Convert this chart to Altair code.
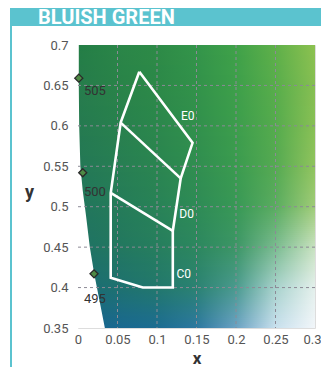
import altair as alt
import pandas as pd

# ---- axes ----
x_ticks = [0, 0.05, 0.1, 0.15, 0.2, 0.25, 0.3]
y_ticks = [0.35, 0.4, 0.45, 0.5, 0.55, 0.6, 0.65, 0.7]
grid_x = [0.05, 0.1, 0.15, 0.2, 0.25]
grid_y = [0.4, 0.45, 0.5, 0.55, 0.6, 0.65]

# ---- background colour table ----
bg_stops_x = [0, 0.05, 0.1, 0.15, 0.2, 0.25, 0.3]
bg_rows_y = [0.35, 0.4, 0.45, 0.5, 0.55, 0.6, 0.65, 0.7]
bg_colors = [
    ["#17638c", "#196890", "#1c6c92", "#2c78a0", "#6aa2c4", "#c8e0ee", "#f2f6fa"],
    ["#1b6c74", "#1e7170", "#22786c", "#2b8272", "#4a9a8e", "#a8d2cc", "#e4f0ec"],
    ["#1f7265", "#22775f", "#267e5e", "#2c875f", "#3c9666", "#7abb90", "#c8e2c0"],
    ["#21755c", "#247b59", "#288257", "#2e8b56", "#389856", "#5aac60", "#a0cc78"],
    ["#237856", "#277e53", "#2a8550", "#308e50", "#3a9b4f", "#55aa52", "#90c45e"],
    ["#257a50", "#28804e", "#2b874c", "#31904c", "#3c9d4c", "#55ab4d", "#88c055"],
    ["#267c4c", "#298348", "#2c8948", "#32924a", "#3d9f4a", "#58ad4b", "#86bf52"],
    ["#237d45", "#2a8548", "#2d8a47", "#33944a", "#3fa149", "#5fb04a", "#8cc150"],
]

# ---- spectral locus edge (white outside) ----
locus_x = [0.034, 0.027, 0.0205, 0.015, 0.010, 0.006, 0.003, 0.0015, 0.001, 0.001]
locus_y = [0.35, 0.385, 0.417, 0.45, 0.49, 0.52, 0.55, 0.60, 0.65, 0.70]

# ---- wavelength markers ----
wl_x = [0.001, 0.006, 0.0203]
wl_y = [0.659, 0.542, 0.417]
wl_text = ["505", "500", "495"]
wl_text_x = [0.0076, 0.0076, 0.0076]
wl_text_y = [0.6435, 0.5186, 0.3859]

# ---- region outline ----
outline_x = [0.0776, 0.145, 0.130, 0.120, 0.120, 0.082, 0.0414, 0.0414, 0.054, 0.0776]
outline_y = [0.667, 0.579, 0.535, 0.470, 0.400, 0.400, 0.412, 0.517, 0.604, 0.667]
div1_x = [0.054, 0.130]
div1_y = [0.604, 0.535]
div2_x = [0.0414, 0.120]
div2_y = [0.517, 0.470]
region_text = ["E0", "D0", "C0"]
region_x = [0.139, 0.1375, 0.1338]
region_y = [0.6126, 0.4906, 0.417]

TITLE = "BLUISH GREEN"

# ---- scales / axes ----
xs = alt.Scale(domain=[0, 0.3], nice=False, zero=False)
ys = alt.Scale(domain=[0.35, 0.7], nice=False, zero=False)
ax_x = alt.Axis(values=x_ticks, format="~g", grid=False, ticks=False, domain=False,
                labelFont="Roboto", labelFontSize=13, labelColor="#555", labelPadding=5,
                labelFlush=False, labelOverlap=False,
                labelAlign={"condition": {"test": "datum.value >= 0.29", "value": "right"},
                            "value": "center"},
                labelOffset={"condition": {"test": "datum.value >= 0.29", "value": 6},
                             "value": 0},
                title="x", titleFont="Roboto", titleFontSize=17, titleFontWeight="bold",
                titleColor="#333", titleY=35, titleBaseline="alphabetic")
ax_y = alt.Axis(values=y_ticks, format="~g", grid=False, ticks=False, domain=False,
                labelFont="Roboto", labelFontSize=13, labelColor="#555", labelPadding=10,
                labelFlush=False, labelOverlap=False,
                title="y", titleFont="Roboto", titleFontSize=18, titleFontWeight="bold",
                titleColor="#333", titleAngle=0, titleX=-49, titleY=152,
                titleAlign="center", titleBaseline="alphabetic")


def X(f):
    return alt.X(f, type="quantitative", scale=xs, axis=ax_x, title="x")


def Y(f):
    return alt.Y(f, type="quantitative", scale=ys, axis=ax_y, title="y")


def h2rgb(h):
    return tuple(int(h[i:i + 2], 16) for i in (1, 3, 5))


def mix(a, b, t):
    ra, rb = h2rgb(a), h2rgb(b)
    return "#%02x%02x%02x" % tuple(round(ra[i] + (rb[i] - ra[i]) * t) for i in range(3))


layers = []
step = 0.0025
n_bands = 140
for i in range(n_bands):
    y0 = 0.35 + i * step
    yc = y0 + step / 2
    j = min(int((yc - 0.35) / 0.05), len(bg_rows_y) - 2)
    t = (yc - bg_rows_y[j]) / 0.05
    stops = [alt.GradientStop(color=mix(bg_colors[j][k], bg_colors[j + 1][k], t),
                              offset=bg_stops_x[k] / 0.3) for k in range(len(bg_stops_x))]
    df = pd.DataFrame({"bx0": [0.0], "bx1": [0.3], "by0": [y0],
                       "by1": [min(y0 + step * 1.6, 0.7)]})
    layers.append(
        alt.Chart(df).mark_rect(
            color=alt.LinearGradient(gradient="linear", stops=stops, x1=0, x2=1, y1=0, y2=0),
            strokeWidth=0)
        .encode(x=X("bx0"), x2="bx1", y=Y("by0"), y2="by1")
    )

locus_df = pd.DataFrame({"lx": locus_x, "ly": locus_y, "zero": [0.0] * len(locus_x)})
layers.append(
    alt.Chart(locus_df).mark_area(orient="horizontal", color="white", opacity=1)
    .encode(y=Y("ly"), x=X("lx"), x2="zero")
)

grid_style = dict(color="#8c8a96", strokeDash=[3, 3], strokeWidth=1)
layers.append(alt.Chart(pd.DataFrame({"gx": grid_x})).mark_rule(**grid_style).encode(x=X("gx")))
layers.append(alt.Chart(pd.DataFrame({"gy": grid_y})).mark_rule(**grid_style).encode(y=Y("gy")))

line_style = dict(color="white", strokeWidth=2.6, strokeJoin="miter", strokeCap="butt")
out_df = pd.DataFrame({"ox": outline_x, "oy": outline_y, "o": list(range(len(outline_x)))})
layers.append(alt.Chart(out_df).mark_line(**line_style).encode(x=X("ox"), y=Y("oy"), order="o:Q"))
for dx, dy in ((div1_x, div1_y), (div2_x, div2_y)):
    ddf = pd.DataFrame({"dx": dx, "dy": dy, "o": [0, 1]})
    layers.append(alt.Chart(ddf).mark_line(**line_style).encode(x=X("dx"), y=Y("dy"), order="o:Q"))

wl_df = pd.DataFrame({"wx": wl_x, "wy": wl_y, "tx": wl_text_x, "ty": wl_text_y, "t": wl_text})
layers.append(
    alt.Chart(wl_df).mark_point(shape="diamond", filled=True, fill="#4f8a45", stroke="#2a2a2a",
                                strokeWidth=1.3, size=65, opacity=1)
    .encode(x=X("wx"), y=Y("wy"))
)
layers.append(
    alt.Chart(wl_df).mark_text(align="left", baseline="middle", font="Roboto", fontSize=13,
                               color="#333")
    .encode(x=X("tx"), y=Y("ty"), text="t:N")
)

reg_df = pd.DataFrame({"rx": region_x, "ry": region_y, "t": region_text})
layers.append(
    alt.Chart(reg_df).mark_text(align="center", baseline="middle", font="Roboto", fontSize=12,
                                color="white")
    .encode(x=X("rx"), y=Y("ry"), text="t:N")
)

one = pd.DataFrame({"a": [0]})
layers.append(
    alt.Chart(one).mark_rect(color="#5bc3cf")
    .encode(x=alt.value(-68), x2=alt.value(243), y=alt.value(-37), y2=alt.value(-19))
)
layers.append(
    alt.Chart(one).mark_rule(color="#5bc3cf", strokeWidth=2)
    .encode(x=alt.value(-67), y=alt.value(-19), y2=alt.value(330))
)
layers.append(
    alt.Chart(one).mark_text(text=TITLE, align="left", baseline="alphabetic", font="Roboto",
                             fontSize=20, fontWeight="bold", color="white")
    .encode(x=alt.value(-40), y=alt.value(-21))
)

chart = (
    alt.layer(*layers)
    .properties(width=237, height=283,
                autosize=alt.AutoSizeParams(type="none"),
                padding={"left": 70, "top": 37, "right": 6, "bottom": 39})
    .configure_view(stroke="#555", strokeWidth=2)
    .configure(background="white")
)

chart.save("out.html", embed_options={"renderer": "svg", "actions": False})
